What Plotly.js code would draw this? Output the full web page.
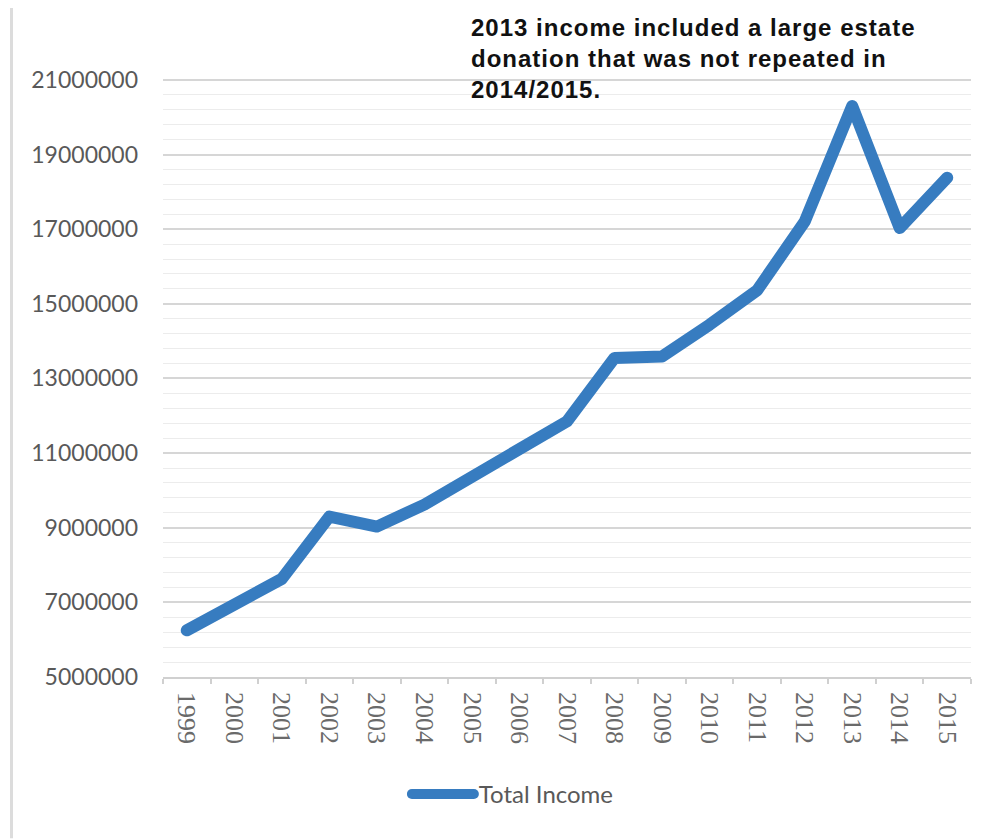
<!DOCTYPE html>
<html>
<head>
<meta charset="utf-8">
<script src="https://cdn.plot.ly/plotly-3.0.1.min.js"></script>
<style>
  html, body { margin: 0; padding: 0; background: #ffffff; }
  #chart { width: 994px; height: 839px; }
  .scatterlayer .js-line, .legendlines .js-line { stroke-linejoin: round; stroke-linecap: round; }
  .annotation-text { letter-spacing: 1px; }
</style>
</head>
<body>
<div id="chart"></div>
<script>
const years = ["1999","2000","2001","2002","2003","2004","2005","2006","2007","2008","2009","2010","2011","2012","2013","2014","2015"];
const totalIncome = [6250000, 6950000, 7630000, 9300000, 9030000, 9620000, 10380000, 11140000, 11850000, 13550000, 13590000, 14440000, 15360000, 17200000, 20300000, 17030000, 18380000];
const seriesName = "Total Income";
const noteText = "2013 income included a large estate<br>donation that was not repeated in<br>2014/2015.";
const yTicks = [5000000, 7000000, 9000000, 11000000, 13000000, 15000000, 17000000, 19000000, 21000000];
const yTickText = yTicks.map(v => String(v));

const trace = {
  type: "scatter",
  mode: "lines",
  x: years,
  y: totalIncome,
  name: seriesName,
  line: { color: "#377cc0", width: 12 },
  hoverinfo: "x+y"
};

const plotTop = 78, plotBottom = 677.5, plotH = plotBottom - plotTop;

const layout = {
  width: 994,
  height: 839,
  paper_bgcolor: "#ffffff",
  plot_bgcolor: "#ffffff",
  margin: { l: 163, r: 23, t: plotTop, b: 839 - plotBottom },
  showlegend: true,
  legend: {
    orientation: "h",
    x: 0.433, xanchor: "center",
    y: -(795 - plotBottom) / plotH, yanchor: "middle",
    itemwidth: 62,
    font: { family: "Lato, 'Open Sans', sans-serif", size: 24, color: "#595959" },
    bgcolor: "rgba(0,0,0,0)"
  },
  xaxis: {
    type: "category",
    range: [-0.5, years.length - 0.5],
    tickson: "boundaries",
    ticks: "outside",
    ticklen: 5,
    tickcolor: "#d0d0d0",
    tickwidth: 1.5,
    showline: true,
    linecolor: "#d0d0d0",
    linewidth: 1.5,
    showgrid: false,
    tickangle: 90,
    ticklabelstandoff: 8,
    tickfont: { family: "'Liberation Serif', 'DejaVu Serif', serif", size: 26, color: "#6a6a6a" },
    zeroline: false
  },
  yaxis: {
    range: [5000000, 21050000],
    tickvals: yTicks,
    ticktext: yTickText,
    ticks: "",
    showline: false,
    zeroline: false,
    showgrid: true,
    gridcolor: "#d6d6d6",
    gridwidth: 2,
    ticklabelstandoff: 24,
    tickfont: { family: "Lato, 'Open Sans', sans-serif", size: 23, color: "#595959" },
    minor: { dtick: 400000, tick0: 5000000, showgrid: true, gridcolor: "#ececec", gridwidth: 1, ticks: "" }
  },
  shapes: [
    { type: "line", xref: "paper", yref: "paper",
      x0: (11.5 - 163) / 808, x1: (11.5 - 163) / 808,
      y0: 1 + (plotTop - 8) / plotH, y1: -(839 - plotBottom) / plotH,
      line: { color: "#dcdcdc", width: 3 } }
  ],
  annotations: [
    { xref: "paper", yref: "paper",
      x: (469 - 163) / 808, xanchor: "left",
      y: 1 + (plotTop - 12) / plotH, yanchor: "top",
      align: "left", showarrow: false,
      text: "<b>" + noteText + "</b>",
      font: { family: "'Liberation Sans', Arial, sans-serif", size: 24, color: "#111111" } }
  ]
};

Plotly.newPlot("chart", [trace], layout, { displayModeBar: false, responsive: false });
</script>
</body>
</html>
